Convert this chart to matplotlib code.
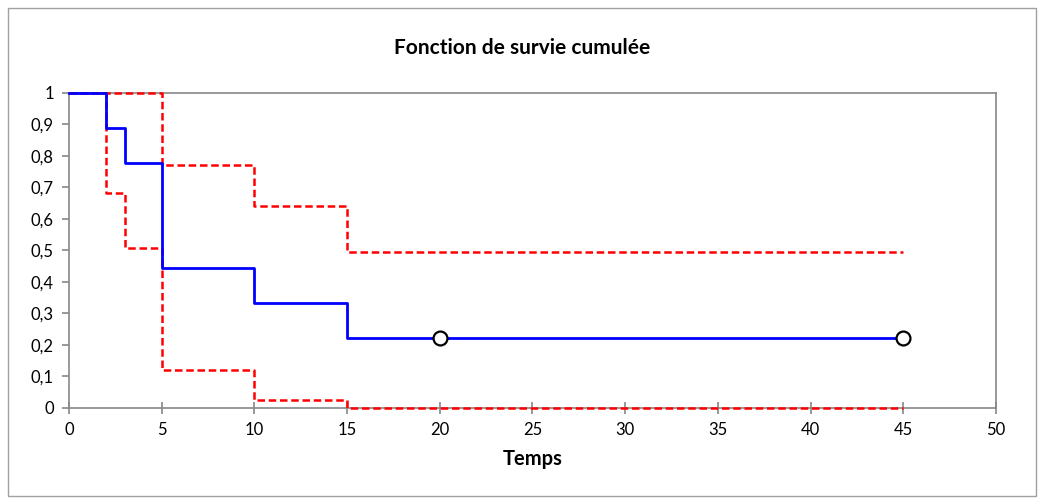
import matplotlib.pyplot as plt
from matplotlib.ticker import FuncFormatter
from matplotlib.patches import Rectangle

plt.rcParams['font.family'] = ['Lato', 'DejaVu Sans']

# Kaplan-Meier estimate and confidence bounds (step functions)
t = [0, 2, 3, 5, 10, 15, 45]
surv = [1, 0.889, 0.778, 0.444, 0.333, 0.222, 0.222]
upper = [1, 1, 1, 0.77, 0.64, 0.495, 0.495]
lower = [1, 0.683, 0.507, 0.12, 0.025, 0, 0]
cens_t = [20, 45]
cens_s = [0.222, 0.222]

fig = plt.figure(figsize=(10.44, 5.04), dpi=100)
fig.patches.append(Rectangle((0.008, 0.016), 0.984, 0.968, transform=fig.transFigure,
                             fill=False, edgecolor='#a0a0a0', linewidth=1))
ax = fig.add_axes([0.0661, 0.1905, 0.8879, 0.625])

dash = (0, (3, 1.5))
ax.step(t, upper, where='post', color='#ff0000', linestyle=dash, linewidth=1.8, zorder=3, clip_on=False)
ax.step(t, lower, where='post', color='#ff0000', linestyle=dash, linewidth=1.8, zorder=3, clip_on=False)
ax.step(t, surv, where='post', color='#0000ff', linewidth=2, zorder=4, clip_on=False)
ax.plot(cens_t, cens_s, linestyle='none', marker='o', markersize=10, markerfacecolor='white',
        markeredgecolor='black', markeredgewidth=1.6, zorder=5, clip_on=False)

ax.set_xlim(0, 50)
ax.set_ylim(0, 1)
ax.set_xticks(range(0, 51, 5))
ax.set_yticks([i / 10 for i in range(11)])
ax.yaxis.set_major_formatter(FuncFormatter(lambda v, p: ('%g' % round(v, 1)).replace('.', ',')))

for s in ax.spines.values():
    s.set_color('#888888')
    s.set_linewidth(1.2)
ax.tick_params(axis='y', direction='out', length=5, color='#888888', width=1.2, labelsize=12, pad=6)
ax.tick_params(axis='x', direction='inout', length=8, color='#888888', width=1.2, labelsize=12, pad=6)

ax.set_xlabel('Temps', fontsize=14.5, fontweight='bold', labelpad=8)
fig.text(0.5, 0.905, 'Fonction de survie cumulée', ha='center', va='center',
         fontsize=15, fontweight='bold')

fig.savefig('out.png', dpi=100)
